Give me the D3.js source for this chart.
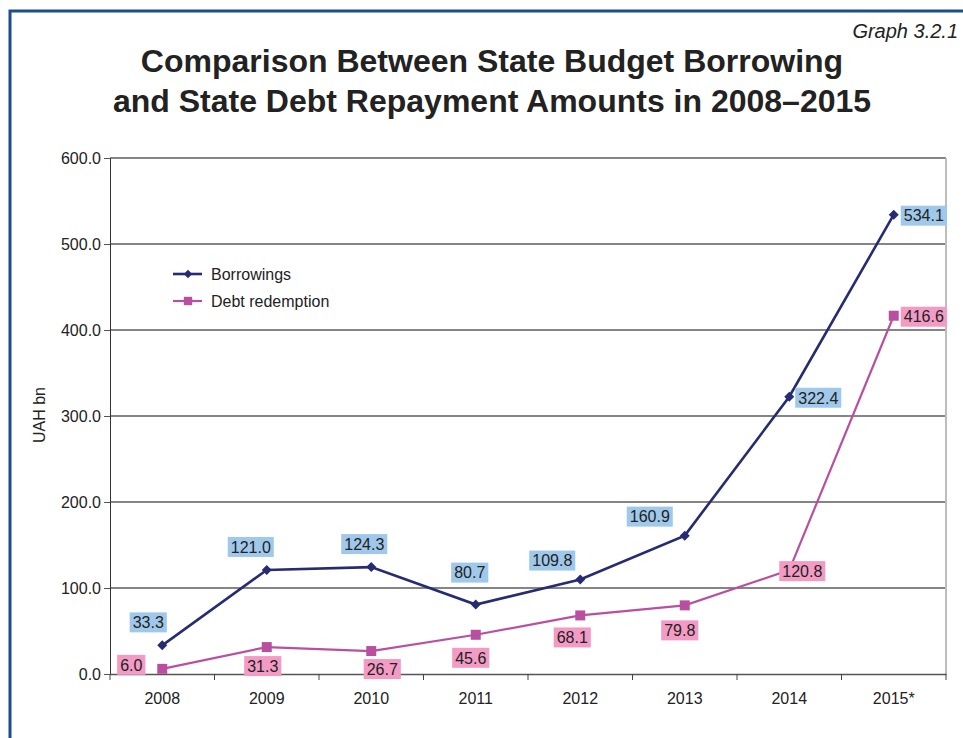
<!DOCTYPE html>
<html>
<head>
  <title>State Budget Borrowing vs Debt Repayment</title>
  <script src="https://d3js.org/d3.v7.min.js"></script>
  <style>
    body { margin: 0; background: #fff; }
    text { font-family: "Liberation Sans", Arial, sans-serif; fill: #222; }
  </style>
</head>
<body>
  <svg id="chart" width="963" height="738"></svg>

  <script>
    // data
    const years = ["2008", "2009", "2010", "2011", "2012", "2013", "2014", "2015*"];
    const borrowings = [33.3, 121.0, 124.3, 80.7, 109.8, 160.9, 322.4, 534.1];
    const redemption = [6.0, 31.3, 26.7, 45.6, 68.1, 79.8, 120.8, 416.6];
    const yTicks = [0, 100, 200, 300, 400, 500, 600];

    // where each value label sits relative to its point (label centre offset)
    const borrowOffsets = [[-14, -23], [-16, -23], [-7, -23], [-6, -32], [-28, -19], [-35, -19], [29, 1], [30, 1]];
    const redeemOffsets = [[-31, -4], [-4, 19], [11, 18], [-5, 23], [-8, 22], [-5, 25], [13, 1], [30, 1]];

    const svg = d3.select("#chart");
    const plotL = 110, plotR = 946, plotT = 158, plotB = 674;

    const x = d3.scaleBand().domain(years).range([plotL, plotR]);
    const cx = d => x(d) + x.bandwidth() / 2;
    const y = d3.scaleLinear().domain([0, 600]).range([plotB, plotT]);

    // blue frame
    svg.append("path")
      .attr("d", `M10,738 L10,11 L963,11`)
      .attr("fill", "none")
      .attr("stroke", "#1b4f8a")
      .attr("stroke-width", 3);

    svg.append("text")
      .attr("x", 958).attr("y", 38)
      .attr("text-anchor", "end")
      .style("font-style", "italic")
      .style("font-size", "20px")
      .text("Graph 3.2.1");

    const title = ["Comparison Between State Budget Borrowing",
                   "and State Debt Repayment Amounts in 2008–2015"];
    svg.selectAll(".title").data(title).enter().append("text")
      .attr("class", "title")
      .attr("x", 492)
      .attr("y", (d, i) => 72 + i * 40)
      .attr("text-anchor", "middle")
      .style("font-size", "32px")
      .style("font-weight", "bold")
      .text(d => d);

    // gridlines
    svg.selectAll(".grid").data(yTicks.filter(d => d > 0)).enter().append("line")
      .attr("x1", plotL).attr("x2", plotR)
      .attr("y1", d => y(d)).attr("y2", d => y(d))
      .attr("stroke", "#858585")
      .attr("stroke-width", 2);

    // right border of plot
    svg.append("line")
      .attr("x1", plotR).attr("x2", plotR)
      .attr("y1", plotT).attr("y2", plotB)
      .attr("stroke", "#bdbdbd")
      .attr("stroke-width", 2);

    // y axis
    const yAxis = svg.append("g")
      .attr("transform", `translate(${plotL},0)`)
      .call(d3.axisLeft(y).tickValues(yTicks).tickFormat(d3.format(".1f")).tickSize(6).tickPadding(3));
    yAxis.select(".domain").attr("stroke", "#333");
    yAxis.selectAll(".tick line").attr("stroke", "#555");
    yAxis.selectAll("text").style("font-size", "16px").attr("fill", "#222");

    // x axis with ticks at band boundaries
    const xAxis = svg.append("g")
      .attr("transform", `translate(0,${plotB})`)
      .call(d3.axisBottom(x).tickSize(0).tickPadding(19));
    xAxis.select(".domain").attr("stroke", "#555").attr("stroke-width", 1.5);
    xAxis.selectAll("text").style("font-size", "16px").attr("fill", "#222");
    const bounds = years.map(d => x(d)).concat([plotR]);
    svg.selectAll(".xtick").data(bounds).enter().append("line")
      .attr("x1", d => d).attr("x2", d => d)
      .attr("y1", plotB).attr("y2", plotB + 6)
      .attr("stroke", "#444");

    svg.append("text")
      .attr("transform", "translate(45,415) rotate(-90)")
      .attr("text-anchor", "middle")
      .style("font-size", "16px")
      .text("UAH bn");

    const line = d3.line().x((d, i) => cx(years[i])).y(d => y(d));

    const series = [
      { name: "Borrowings", values: borrowings, offsets: borrowOffsets, color: "#262b72", width: 2.6, shape: d3.symbolSquare, size: 50, rot: 45, box: "#9fc8ea" },
      { name: "Debt redemption", values: redemption, offsets: redeemOffsets, color: "#b9509f", width: 2.2, shape: d3.symbolSquare, size: 100, rot: 0, box: "#f39bc4" }
    ];

    series.forEach(s => {
      svg.append("path")
        .datum(s.values)
        .attr("d", line)
        .attr("fill", "none")
        .attr("stroke", s.color)
        .attr("stroke-width", s.width);

      svg.selectAll(null).data(s.values).enter().append("path")
        .attr("transform", (d, i) => `translate(${cx(years[i])},${y(d)}) rotate(${s.rot})`)
        .attr("d", d3.symbol().type(s.shape).size(s.size))
        .attr("fill", s.color);
    });

    // value labels on boxes
    series.forEach(s => {
      const lab = svg.selectAll(null).data(s.values).enter().append("g")
        .attr("transform", (d, i) => `translate(${cx(years[i]) + s.offsets[i][0]},${y(d) + s.offsets[i][1]})`);
      lab.append("text")
        .attr("text-anchor", "middle")
        .attr("dy", "0.36em")
        .style("font-size", "16px")
        .text(d => d.toFixed(1));
      lab.each(function() {
        const g = d3.select(this);
        const w = g.select("text").node().getComputedTextLength();
        g.insert("rect", "text")
          .attr("x", -w / 2 - 3).attr("y", -10)
          .attr("width", w + 6).attr("height", 20)
          .attr("fill", s.box);
      });
    });

    // legend
    const legend = svg.append("g").attr("transform", "translate(173,274)");
    series.forEach((s, i) => {
      const g = legend.append("g").attr("transform", `translate(0,${i * 27})`);
      g.append("line").attr("x1", 0).attr("x2", 29)
        .attr("stroke", s.color).attr("stroke-width", s.width);
      g.append("path").attr("transform", `translate(15,0) rotate(${s.rot})`)
        .attr("d", d3.symbol().type(s.shape).size(s.size * 0.7))
        .attr("fill", s.color);
      g.append("text").attr("x", 38).attr("dy", "0.36em")
        .style("font-size", "16px")
        .text(s.name);
    });
  </script>
</body>
</html>
